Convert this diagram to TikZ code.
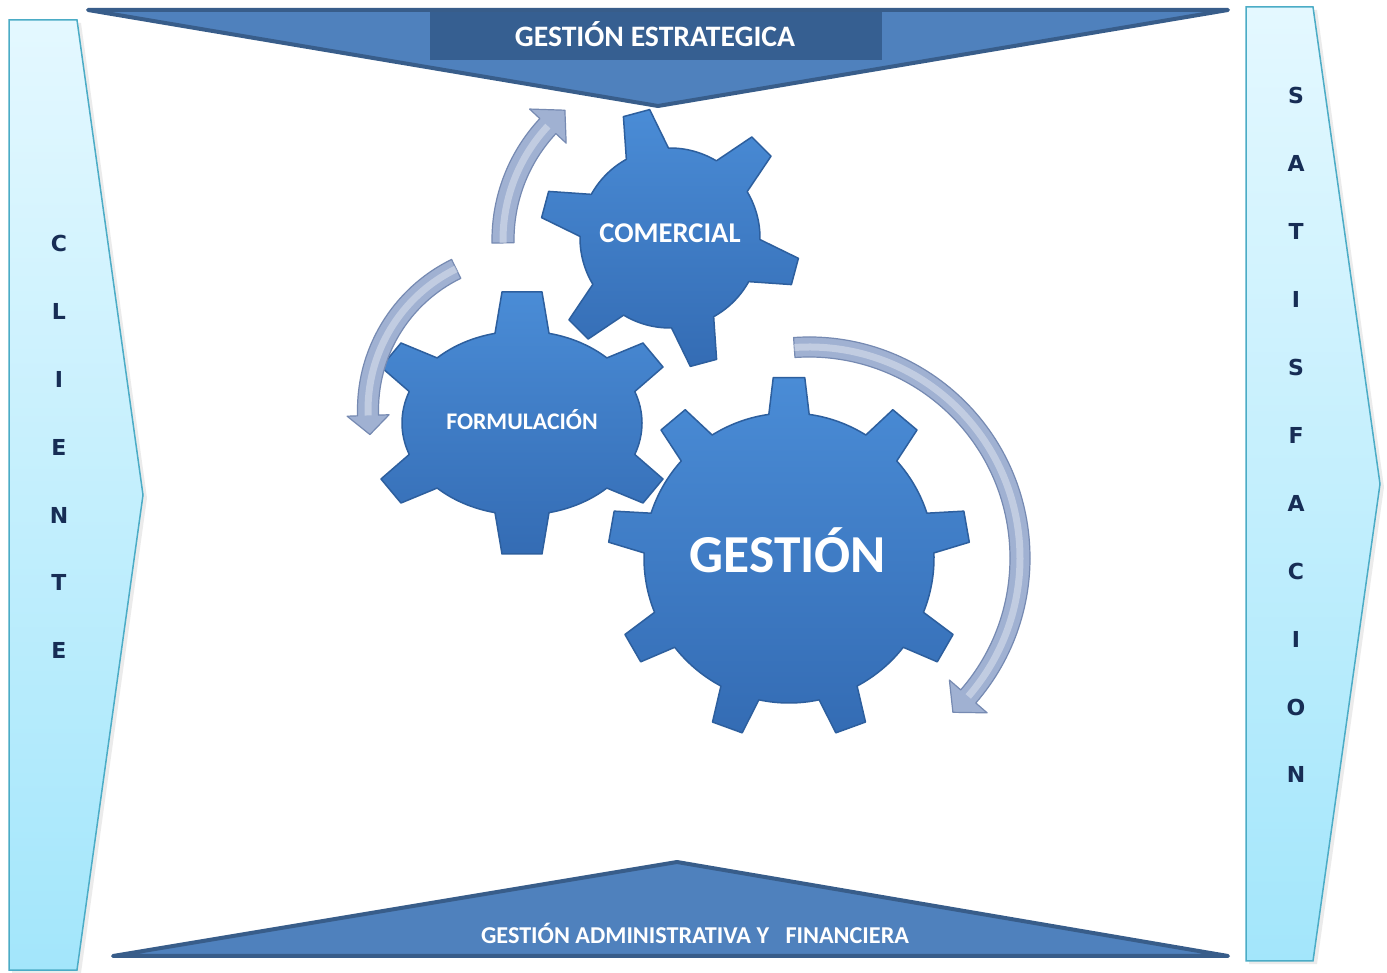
\documentclass[tikz,border=0pt]{standalone}
\usepackage{fontspec}
\setmainfont{Carlito}
\newfontfamily\letterfont{DejaVu Sans}
\usetikzlibrary{shadings}
\definecolor{bannerfill}{RGB}{79,129,189}
\definecolor{bannerline}{RGB}{56,93,138}
\definecolor{bannerrect}{RGB}{54,95,145}
\definecolor{panelline}{RGB}{75,172,198}
\definecolor{paneltop}{RGB}{228,248,255}
\definecolor{panelbot}{RGB}{163,230,251}
\definecolor{lettercol}{RGB}{23,45,85}
\definecolor{geartop}{RGB}{74,140,214}
\definecolor{gearbot}{RGB}{52,108,180}
\definecolor{gearline}{RGB}{45,95,158}
\definecolor{arrowfill}{RGB}{160,177,210}
\definecolor{arrowline}{RGB}{118,138,178}
\tikzset{
  banner/.style={draw=bannerline, fill=bannerfill, line width=4pt, line join=round, line cap=round},
  panel/.style={draw=panelline, line width=1.5pt, top color=paneltop, bottom color=panelbot},
  panelshadow/.style={fill=black, opacity=0.08},
  letter/.style={text=lettercol, font=\letterfont\bfseries\fontsize{22}{24}\selectfont, anchor=base, inner sep=0pt},
  bantext/.style={text=white, font=\bfseries\fontsize{29.7}{31}\selectfont, anchor=base, inner sep=0pt},
  geartext/.style={text=white, font=\bfseries, anchor=base, inner sep=0pt},
  gearshape/.style={draw=gearline, line width=1.5pt, top color=geartop, bottom color=gearbot, line join=round},
  arrowshape/.style={draw=arrowline, line width=1.2pt, fill=arrowfill, line join=round},
  arrowhl/.style={draw=white, opacity=0.35, line width=7pt}
}
% center, xscale, r, R, n-1, offset, step, db, dt
\newcommand{\drawgear}[9]{%
  \begin{scope}[shift={#1},xscale=#2]
    \path[gearshape] (#6+#8:#3)
      \foreach \i [evaluate=\i as \a using #6-\i*#7] in {0,...,#5} {
        -- (\a+#9:#4) -- (\a-#9:#4) -- (\a-#8:#3)
        arc[start angle=\a-#8, end angle=\a-#7+#8, radius=#3]
      } -- cycle;
  \end{scope}}
% center, R, start, headbase, tip, w, h
\newcommand{\curvearrow}[7]{%
  \begin{scope}[shift={#1}]
    \path[arrowshape] (#3:#2+#6) arc[start angle=#3, end angle=#4, radius=#2+#6]
      -- (#4:#2+#7) -- (#5:#2) -- (#4:#2-#7) -- (#4:#2-#6)
      arc[start angle=#4, end angle=#3, radius=#2-#6] -- cycle;
    \draw[arrowhl] (#3:#2) arc[start angle=#3, end angle=#4, radius=#2];
  \end{scope}}
\newcommand{\ep}[1]{({120*cos(#1)},{92*sin(#1)})}
\begin{document}
\begin{tikzpicture}[x=1pt,y=1pt]
\useasboundingbox (0,0) rectangle (1387,972);
\fill[white] (0,0) rectangle (1387,972);

% side panels
\fill[panelshadow] (12,-1) -- (81,-1) -- (147,474) -- (81,949) -- (12,949) -- cycle;
\path[panel] (9,2) -- (77,2) -- (143,477) -- (77,952) -- (9,952) -- cycle;
\fill[panelshadow] (1249,8) -- (1317,8) -- (1384,485) -- (1317,962) -- (1249,962) -- cycle;
\path[panel] (1246,11) -- (1313,11) -- (1380,488) -- (1313,965) -- (1246,965) -- cycle;

\foreach \l [count=\i] in {C,L,I,E,N,T,E}
  \node[letter] (cl\i) at (59,{720-(\i-1)*67.8}) {\l};
\foreach \l [count=\i] in {S,A,T,I,S,F,A,C,I,O,N}
  \node[letter] (sat\i) at (1296,{868-(\i-1)*67.9}) {\l};

% top banner
\path[banner] (88,962) -- (1228,962) -- (658,866) -- cycle;
\fill[bannerrect] (430,960) rectangle (882,912);
\node[bantext] (estrat) at (655,925) {GESTIÓN ESTRATEGICA};

% bottom banner
\path[banner] (113,16) -- (1228,16) -- (677,110) -- cycle;
\node[bantext, font=\bfseries\fontsize{24.2}{25}\selectfont] (admin) at (695,28) {GESTIÓN ADMINISTRATIVA Y\ \ \ FINANCIERA};

% gears
\drawgear{(789,414)}{1}{145}{181}{8}{90}{40}{8}{5}
\begin{scope}[shift={(522,549)}]
  \path[gearshape] \ep{103} -- (-20,131) -- (20,131) -- \ep{77}
    arc[start angle=77, end angle=45, x radius=120, y radius=92]
    -- (121,80) -- (141,56) -- \ep{20}
    arc[start angle=20, end angle=-20, x radius=120, y radius=92]
    -- (141,-56) -- (121,-80) -- \ep{-45}
    arc[start angle=-45, end angle=-77, x radius=120, y radius=92]
    -- (20,-131) -- (-20,-131) -- \ep{-103}
    arc[start angle=-103, end angle=-135, x radius=120, y radius=92]
    -- (-121,-80) -- (-141,-56) -- \ep{-160}
    arc[start angle=-160, end angle=-200, x radius=120, y radius=92]
    -- (-141,56) -- (-121,80) -- \ep{135}
    arc[start angle=135, end angle=103, x radius=120, y radius=92]
    -- cycle;
\end{scope}
\drawgear{(670,734)}{1}{90}{130}{5}{105}{60}{14}{6}

\node[geartext, font=\bfseries\fontsize{28.6}{30}\selectfont] (comercial) at (670,729) {COMERCIAL};
\node[geartext, font=\bfseries\fontsize{23.8}{25}\selectfont] (formul) at (522,542) {FORMULACIÓN};
\node[geartext, font=\bfseries\fontsize{53.4}{55}\selectfont] (gestion) at (788,399) {GESTIÓN};

% curved arrows
\curvearrow{(670,732)}{167}{181}{137}{129}{11}{25}
\curvearrow{(525,562)}{157}{116}{182}{189}{10.5}{21}
\curvearrow{(809,414)}{211}{94}{-41}{-47}{10}{25}
\end{tikzpicture}
\end{document}
